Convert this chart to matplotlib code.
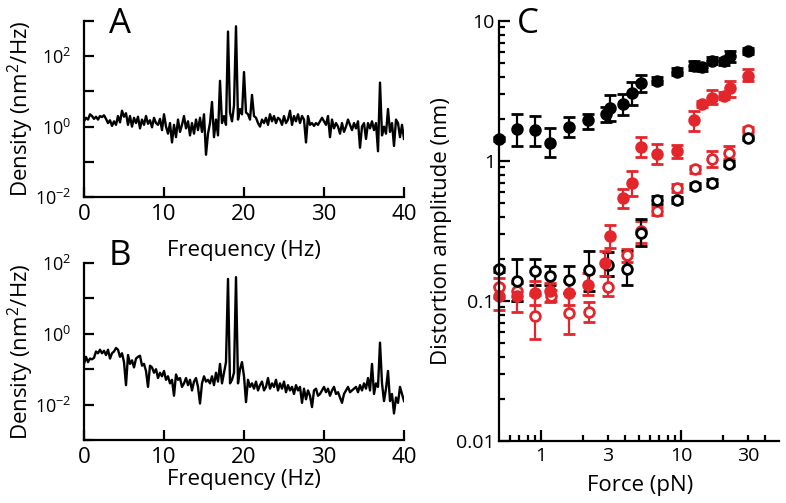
import numpy as np
import matplotlib
matplotlib.use('Agg')
import matplotlib.pyplot as plt
from matplotlib.ticker import NullLocator, FixedLocator, FixedFormatter

plt.rcParams['font.family'] = 'Open Sans'
plt.rcParams['mathtext.fontset'] = 'custom'
plt.rcParams['mathtext.rm'] = 'Open Sans'
plt.rcParams['mathtext.it'] = 'Open Sans:italic'
plt.rcParams['mathtext.bf'] = 'Open Sans:bold'

# spectra, log10 density every 0.25 Hz from 0 to 40 Hz
freq = np.arange(161) * 0.25
logA = [0.15, 0.25, 0.2, 0.35, 0.3, 0.22, 0.28, 0.2, 0.3, 0.27, 0.32, 0.22,
        0.1, 0.18, 0.02, 0.15, 0.05, 0.3, 0.12, 0.45, 0.28, 0.38, 0.05, 0.3,
        0.0, 0.25, 0.1, 0.28, -0.05, 0.2, 0.05, 0.3, 0.08, 0.18, -0.02, 0.25,
        0.1, 0.05, 0.22, -0.1, 0.35, 0.0, -0.2, 0.1, -0.45, 0.05, -0.3, 0.2,
        -0.15, 0.05, 0.3, -0.05, 0.15, -0.25, 0.1, -0.2, 0.2, -0.1, 0.25, -0.15,
        0.35, -0.8, -0.2, 0.1, 0.7, -0.3, 0.2, -0.25, 1.3, 0.1, 0.3, 0.05,
        2.7, 0.4, 0.15, 0.6, 2.85, 0.2, 0.5, 0.35, 1.55, 0.4, 0.35, 0.2,
        0.9, 0.3, 0.25, 0.1, 0.0, 0.2, 0.1, 0.25, 0.05, 0.35, 0.15, 0.3,
        0.1, 0.25, 0.2, 0.05, 0.3, 0.1, 0.2, 0.45, 0.05, 0.3, 0.15, 0.35,
        0.1, 0.3, 0.2, -0.45, 0.3, 0.05, 0.1, 0.02, 0.1, 0.05, 0.15, 0.25,
        0.15, 0.05, 0.3, -0.3, 0.2, -0.05, 0.1, 0.0, -0.2, 0.1, -0.15, 0.0,
        0.2, 0.05, -0.1, 0.1, -0.05, 0.15, -0.6, 0.0, 0.1, -0.35, 0.1, -0.05,
        0.15, -0.1, 0.1, -0.7, 1.25, -0.25, 0.0, -0.2, 0.5, -0.15, 0.1, -0.55,
        0.2, 0.1, -0.3, 0.05, -0.35]
logB = [-0.85, -0.65, -0.8, -0.7, -0.72, -0.68, -0.5, -0.55, -0.45, -0.55, -0.48, -0.6,
        -0.45, -0.7, -0.55, -0.5, -0.4, -0.45, -0.65, -0.55, -0.8, -1.45, -0.6, -0.85,
        -0.75, -0.95, -0.7, -0.65, -0.62, -0.9, -0.85, -1.05, -1.5, -0.9, -0.95, -1.1,
        -1.0, -1.25, -1.1, -1.2, -1.05, -1.3, -1.2, -1.4, -1.3, -1.75, -1.15, -1.3,
        -1.25, -1.5, -1.4, -1.25, -1.45, -1.3, -1.6, -1.35, -1.25, -1.5, -1.97, -1.4,
        -1.2, -1.35, -1.3, -1.4, -1.2, -1.45, -1.1, -1.35, -0.85, -1.4, -1.1, -0.8,
        1.55, -1.4, -1.3, -1.1, 1.6, -1.4, -1.0, -0.8, -1.2, -1.93, -1.3, -1.5,
        -1.4, -1.55, -1.35, -1.6, -1.45, -1.35, -1.6, -1.5, -1.25, -1.55, -1.4, -1.5,
        -1.3, -1.6, -1.4, -1.55, -1.35, -1.65, -1.45, -1.6, -1.5, -1.7, -1.45, -1.6,
        -1.5, -1.95, -1.55, -1.85, -1.6, -1.75, -2.07, -1.6, -1.55, -1.75, -1.7, -1.6,
        -1.5, -1.65, -1.55, -1.75, -1.6, -1.5, -1.7, -1.65, -1.8, -1.95, -1.7, -1.6,
        -1.5, -1.65, -1.6, -1.55, -1.5, -1.65, -1.45, -1.6, -1.4, -1.55, -1.25, -1.6,
        -0.85, -1.7, -1.4, -1.5, -0.25, -1.4, -1.9, -1.55, -1.05, -1.9, -1.7, -2.25,
        -1.8, -1.95, -1.5, -1.7, -1.9]

# panel C: force (pN), amplitude (nm), error bar ends
f_bk = [0.5, 0.67, 0.9, 1.15, 1.57, 2.15, 2.9, 3.11, 3.83, 4.49, 5.15, 6.77, 9.3, 12.4, 14.0, 16.6, 20.1, 22.4, 29.9]
a_bk = [1.44, 1.69, 1.66, 1.35, 1.76, 1.96, 2.16, 2.41, 2.55, 3.06, 3.58, 3.74, 4.34, 4.8, 4.67, 5.21, 5.15, 5.66, 6.15]
lo_bk = [1.40, 1.27, 1.28, 1.06, 1.49, 1.70, 1.90, 1.93, 2.14, 2.52, 3.12, 3.55, 4.10, 4.45, 4.40, 4.90, 4.85, 5.10, 5.85]
hi_bk = [1.48, 2.18, 2.10, 1.71, 2.07, 2.18, 2.45, 2.96, 3.00, 3.68, 4.11, 3.95, 4.60, 5.15, 4.95, 5.55, 5.45, 6.10, 6.45]

f_bko = [0.5, 0.67, 0.9, 1.16, 1.58, 2.18, 2.99, 4.09, 5.15, 6.77, 9.3, 12.6, 16.6, 21.8, 29.9]
a_bko = [0.168, 0.14, 0.163, 0.152, 0.142, 0.166, 0.182, 0.168, 0.306, 0.523, 0.526, 0.662, 0.70, 0.957, 1.47]
lo_bko = [0.160, 0.10, 0.13, 0.13, 0.114, 0.117, 0.150, 0.13, 0.246, 0.49, 0.50, 0.63, 0.66, 0.92, 1.42]
hi_bko = [0.176, 0.20, 0.20, 0.177, 0.177, 0.226, 0.225, 0.226, 0.384, 0.56, 0.555, 0.70, 0.74, 1.0, 1.52]

f_rd = [0.5, 0.67, 0.9, 1.15, 1.58, 2.15, 2.86, 3.08, 3.83, 4.49, 5.15, 6.77, 9.3, 12.4, 14.0, 16.6, 20.3, 22.4, 29.9]
a_rd = [0.108, 0.109, 0.114, 0.117, 0.114, 0.13, 0.187, 0.293, 0.546, 0.70, 1.26, 1.12, 1.17, 1.96, 2.55, 2.84, 2.92, 3.32, 4.07]
lo_rd = [0.0865, 0.084, 0.094, 0.099, 0.094, 0.111, 0.15, 0.24, 0.463, 0.562, 1.06, 0.95, 1.05, 1.64, 2.42, 2.55, 2.75, 2.87, 3.70]
hi_rd = [0.127, 0.134, 0.138, 0.134, 0.138, 0.158, 0.227, 0.348, 0.633, 0.848, 1.49, 1.33, 1.30, 2.28, 2.68, 3.21, 3.10, 3.74, 4.53]

f_rdo = [0.5, 0.67, 0.9, 1.17, 1.58, 2.18, 2.99, 4.09, 5.15, 6.77, 9.3, 12.6, 16.6, 21.8, 29.9]
a_rdo = [0.125, 0.118, 0.0775, 0.109, 0.0818, 0.084, 0.125, 0.212, 0.318, 0.438, 0.644, 0.87, 1.03, 1.15, 1.66]
lo_rdo = [0.105, 0.10, 0.0535, 0.10, 0.058, 0.071, 0.108, 0.19, 0.26, 0.41, 0.60, 0.82, 0.90, 1.03, 1.58]
hi_rdo = [0.145, 0.135, 0.111, 0.12, 0.114, 0.099, 0.15, 0.235, 0.372, 0.47, 0.69, 0.92, 1.18, 1.28, 1.75]

red = '#e3262b'

fig = plt.figure(figsize=(7.86, 5.03), dpi=100)
W, H = 786.0, 503.0

def px_axes(l, t, r, b):
    return fig.add_axes([l / W, 1 - b / H, (r - l) / W, (b - t) / H])

axA = px_axes(84, 21, 404, 197)
axB = px_axes(84, 263, 404, 440)
axC = px_axes(499, 21, 779, 441)

for ax in (axA, axB, axC):
    ax.spines['top'].set_visible(False)
    ax.spines['right'].set_visible(False)
    for s in ('left', 'bottom'):
        ax.spines[s].set_linewidth(1.6)
    ax.tick_params(which='both', direction='in', width=1.6)

# spectra
for ax, logv, ylo, yhi in ((axA, logA, -2, 3), (axB, logB, -3, 2)):
    ax.semilogy(freq, 10 ** np.array(logv), color='k', lw=1.7)
    ax.set_xlim(0, 40)
    ax.set_ylim(10.0 ** ylo, 10.0 ** yhi)
    dec = list(range(ylo, yhi + 1))
    labs = ['$10^{%d}$' % d if d in (-2, 0, 2) else '' for d in dec]
    ax.yaxis.set_major_locator(FixedLocator([10.0 ** d for d in dec]))
    ax.yaxis.set_major_formatter(FixedFormatter(labs))
    ax.yaxis.set_minor_locator(NullLocator())
    ax.set_xticks([0, 10, 20, 30, 40])
    ax.tick_params(axis='x', length=7, labelsize=16, pad=5)
    ax.tick_params(axis='y', length=7, labelsize=13, pad=9)

# distortion amplitude vs force
def series(f, a, lo, hi, c, filled):
    a = np.array(a)
    yerr = [a - np.array(lo), np.array(hi) - a]
    axC.errorbar(f, a, yerr=yerr, fmt='o', color=c, ms=7, mew=2,
                 mfc=c if filled else 'white', mec=c, elinewidth=1.6,
                 capsize=4.5, capthick=1.6, clip_on=False)

series(f_rdo, a_rdo, lo_rdo, hi_rdo, red, False)
series(f_bko, a_bko, lo_bko, hi_bko, 'k', False)
series(f_rd, a_rd, lo_rd, hi_rd, red, True)
series(f_bk, a_bk, lo_bk, hi_bk, 'k', True)

axC.set_xscale('log')
axC.set_yscale('log')
axC.set_xlim(0.5, 50)
axC.set_ylim(0.01, 10)
axC.set_yticks([0.01, 0.1, 1, 10], ['0.01', '0.1', '1', '10'])
axC.set_xticks([1, 10], ['1', '10'])
minor_x = [0.6, 0.7, 0.8, 0.9, 2, 3, 4, 5, 6, 7, 8, 9, 20, 30, 40]
axC.xaxis.set_minor_locator(FixedLocator(minor_x))
axC.xaxis.set_minor_formatter(FixedFormatter(['3' if v == 3 else '30' if v == 30 else '' for v in minor_x]))
axC.tick_params(which='major', length=8, labelsize=14, pad=4)
axC.tick_params(which='minor', length=4, labelsize=14, pad=4)
axC.tick_params(axis='y', which='major', pad=3)

# labels
fs = 16
fig.text(21 / W, 1 - 109 / H, 'Density (nm$^2$/Hz)', rotation=90, ha='center', va='center', fontsize=fs)
fig.text(21 / W, 1 - 352 / H, 'Density (nm$^2$/Hz)', rotation=90, ha='center', va='center', fontsize=fs)
fig.text(441 / W, 1 - 231 / H, 'Distortion amplitude (nm)', rotation=90, ha='center', va='center', fontsize=fs)
fig.text(244 / W, 1 - 256 / H, 'Frequency (Hz)', ha='center', va='baseline', fontsize=fs)
fig.text(244 / W, 1 - 485 / H, 'Frequency (Hz)', ha='center', va='baseline', fontsize=fs)
fig.text(640 / W, 1 - 491 / H, 'Force (pN)', ha='center', va='baseline', fontsize=fs)
fig.text(109 / W, 1 - 33 / H, 'A', fontsize=25, va='baseline')
fig.text(109 / W, 1 - 265 / H, 'B', fontsize=25, va='baseline')
fig.text(517 / W, 1 - 33 / H, 'C', fontsize=25, va='baseline')

fig.savefig('out.png', dpi=100)
